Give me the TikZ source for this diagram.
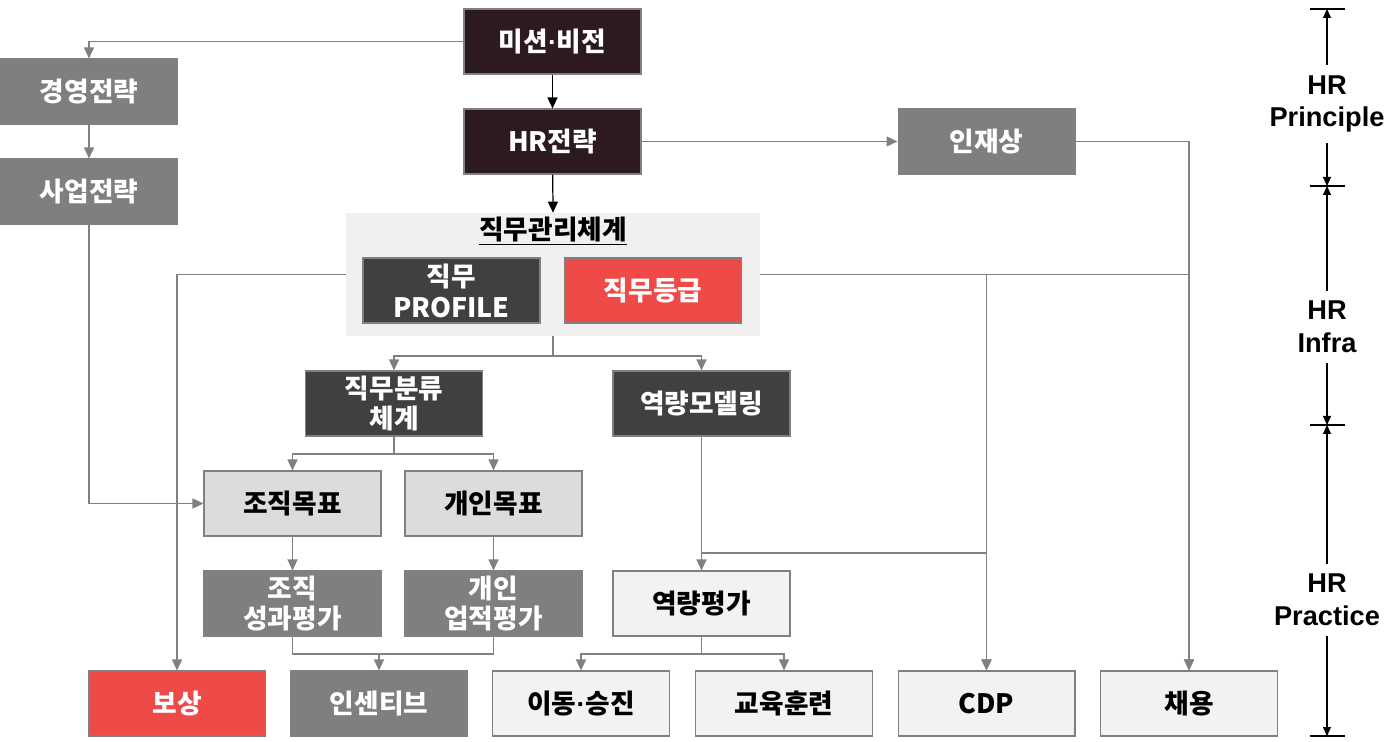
\documentclass[tikz,border=0pt]{standalone}
\usepackage{fontspec}
\newfontfamily\kr{Noto Sans CJK KR}
\newfontfamily\lab{Liberation Sans}
\usetikzlibrary{arrows.meta}
\definecolor{topdark}{RGB}{45,26,30}
\definecolor{darkgr}{RGB}{64,64,64}
\definecolor{midgr}{RGB}{127,127,127}
\definecolor{hrred}{RGB}{238,75,72}
\definecolor{lightgr}{RGB}{220,220,220}
\definecolor{palegr}{RGB}{242,242,242}
\definecolor{bggr}{RGB}{240,240,240}
\definecolor{linegr}{RGB}{128,128,128}
\newcommand{\mdot}{{\lab\bfseries·}}

\begin{document}
\begin{tikzpicture}[x=0.02cm, y=-0.02cm,
    block/.style={rectangle, draw=linegr, line width=0.6pt, minimum width=3.54cm, minimum height=1.3cm, inner sep=0pt, align=center, font=\kr\bfseries\fontsize{15.2}{17.6}\selectfont},
    topblock/.style={block, fill=topdark, text=white},
    darkblock/.style={block, fill=darkgr, text=white},
    greyblock/.style={block, fill=midgr, draw=midgr, text=white},
    redblock/.style={block, fill=hrred, text=white},
    lightblock/.style={block, fill=lightgr, text=black},
    paleblock/.style={block, fill=palegr, text=black},
    gline/.style={draw=linegr, line width=0.7pt},
    garrow/.style={gline, -{Triangle[length=0.22cm, width=0.2cm]}},
    barrow/.style={draw=black, line width=0.7pt, -{Triangle[length=0.22cm, width=0.2cm]}},
    sarrow/.style={draw=black, line width=0.6pt, -{Triangle[length=0.18cm, width=0.16cm]}},
    scalelab/.style={inner sep=0.2cm, align=center, font=\lab\bfseries\fontsize{15.5}{18.7}\selectfont}]

    \useasboundingbox (0,0) rectangle (1400,742);

    % principle
    \node[topblock] (mission) at (552.5,41.5) {미션\mdot 비전};
    \node[topblock] (hrstrat) at (552.5,141.5) {HR전략};
    \node[greyblock] (mgmt) at (89,91.5) {경영전략};
    \node[greyblock] (biz) at (89,191.5) {사업전략};
    \node[greyblock] (talent) at (986.5,141.5) {인재상};

    % infra
    \node[fill=bggr, minimum width=8.28cm, minimum height=2.46cm, inner sep=0pt] (jobsys) at (553,274.5) {};
    \node[font=\kr\bfseries\fontsize{15.2}{17.6}\selectfont] (jobtitle) at (553,231) {\underline{직무관리체계}};
    \node[darkblock] (profile) at (451.5,290.5) {직무\\PROFILE};
    \node[redblock] (grade) at (653,290.5) {직무등급};
    \node[darkblock] (jobclass) at (394,403.5) {직무분류\\체계};
    \node[darkblock] (compmodel) at (701.5,403.5) {역량모델링};

    % practice
    \node[lightblock] (orggoal) at (292.5,503.5) {조직목표};
    \node[lightblock] (indgoal) at (493.5,503.5) {개인목표};
    \node[greyblock] (orgeval) at (292.5,603.5) {조직\\성과평가};
    \node[greyblock] (indeval) at (493.5,603.5) {개인\\업적평가};
    \node[paleblock] (compeval) at (701.5,603.5) {역량평가};

    \node[redblock] (pay) at (177,703.5) {보상};
    \node[greyblock] (incent) at (379,703.5) {인센티브};
    \node[paleblock] (move) at (581,703.5) {이동\mdot 승진};
    \node[paleblock] (train) at (784,703.5) {교육훈련};
    \node[paleblock] (cdp) at (986.5,703.5) {CDP};
    \node[paleblock] (hire) at (1189,703.5) {채용};

    \coordinate (jsplit) at (553,356);
    \coordinate (csplit) at (394,454);
    \coordinate (cdpjoin) at (701.5,553);
    \coordinate (esplit) at (379,654);
    \coordinate (psplit) at (701.5,654);

    \draw[barrow] (mission) -- (hrstrat);
    \draw[barrow] (hrstrat) -- (jobsys.north);
    \draw[garrow] (mission.west) -| (mgmt.north);
    \draw[garrow] (mgmt) -- (biz);
    \draw[garrow] (biz.south) |- (orggoal.west);
    \draw[garrow] (hrstrat.east) -- (talent.west);
    \draw[garrow] (talent.east) -| (hire.north);
    \draw[garrow] (jobsys.west) -| (pay.north);
    \draw[garrow] (jobsys.east) -| (hire.north);
    \draw[garrow] (jobsys.east) -| (cdp.north);

    \draw[gline] (jobsys.south) -- (jsplit);
    \draw[garrow] (jsplit) -| (jobclass.north);
    \draw[garrow] (jsplit) -| (compmodel.north);
    \draw[gline] (jobclass.south) -- (csplit);
    \draw[garrow] (csplit) -| (orggoal.north);
    \draw[garrow] (csplit) -| (indgoal.north);
    \draw[garrow] (compmodel) -- (compeval);
    \draw[garrow] (cdpjoin) -| (cdp.north);
    \draw[garrow] (orggoal) -- (orgeval);
    \draw[garrow] (indgoal) -- (indeval);
    \draw[gline] (orgeval.south) |- (esplit) -| (indeval.south);
    \draw[garrow] (esplit) -- (incent);
    \draw[gline] (compeval.south) -- (psplit);
    \draw[garrow] (psplit) -| (move.north);
    \draw[garrow] (psplit) -| (train.north);

    % levels
    \node[scalelab] (principle) at (1327,104) {HR\\Principle};
    \node[scalelab] (infra) at (1327,327) {HR\\Infra};
    \node[scalelab] (practice) at (1327,600) {HR\\Practice};
    \coordinate (t0) at (1327,9);
    \coordinate (t1) at (1327,186);
    \coordinate (t2) at (1327,425);
    \coordinate (t3) at (1327,736);
    \foreach \t in {t0,t1,t2,t3}
        \draw[line width=0.6pt] ([xshift=-0.35cm]\t) -- ([xshift=0.35cm]\t);
    \draw[sarrow] (principle.north) -- (t0);
    \draw[sarrow] (principle.south) -- (t1);
    \draw[sarrow] (infra.north) -- (t1);
    \draw[sarrow] (infra.south) -- (t2);
    \draw[sarrow] (practice.north) -- (t2);
    \draw[sarrow] (practice.south) -- (t3);
\end{tikzpicture}
\end{document}
